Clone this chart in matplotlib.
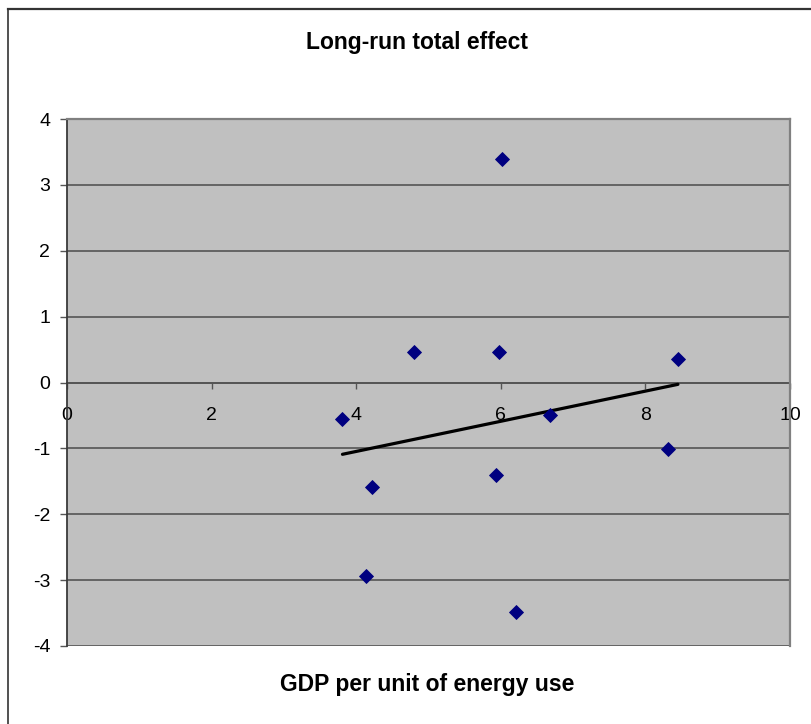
import numpy as np
import matplotlib
matplotlib.use("Agg")
import matplotlib.pyplot as plt
from matplotlib.lines import Line2D

# Data
gdp_per_energy = [3.81, 4.22, 4.14, 4.80, 5.97, 6.01, 5.94, 6.21, 6.68, 8.31, 8.45]
long_run_effect = [-0.56, -1.59, -2.94, 0.47, 0.47, 3.39, -1.40, -3.49, -0.50, -1.01, 0.35]
x_ticks = [0, 2, 4, 6, 8, 10]
y_ticks = [-4, -3, -2, -1, 0, 1, 2, 3, 4]
title_text = "Long-run total effect"
xlabel_text = "GDP per unit of energy use"

plt.rcParams['font.family'] = ['Liberation Sans', 'DejaVu Sans']

W, H = 811, 724
fig = plt.figure(figsize=(W / 100, H / 100), dpi=100)
fig.patch.set_facecolor('white')

# plot area in pixels
L, R, T, B = 67, 790, 119, 646
ax = fig.add_axes([L / W, (H - B) / H, (R - L) / W, (B - T) / H])
ax.set_facecolor('#C0C0C0')
ax.set_xlim(0, 10)
ax.set_ylim(-4, 4)

# gridlines
for yv in y_ticks:
    ax.axhline(yv, color='#555555', lw=1.2, zorder=1)

# spines
ax.spines['left'].set_color('#3a3a3a')
ax.spines['left'].set_linewidth(1.3)
ax.spines['left'].set_position(('data', 0))
ax.spines['bottom'].set_position(('data', 0))
ax.spines['bottom'].set_color('#555555')
ax.spines['bottom'].set_linewidth(1.3)
ax.spines['top'].set_color('#808080')
ax.spines['top'].set_linewidth(1.6)
ax.spines['right'].set_color('#808080')
ax.spines['right'].set_linewidth(1.6)
ax.spines['bottom'].set_zorder(2)

ax.set_xticks(x_ticks)
ax.set_xticklabels([str(v) for v in x_ticks])
ax.set_yticks(y_ticks)
ax.set_yticklabels([str(v) for v in y_ticks])
ax.tick_params(axis='x', direction='out', length=4, width=1, color='#555555',
               labelsize=14, pad=14)
ax.tick_params(axis='y', direction='out', length=5, width=1, color='#555555',
               labelsize=14, pad=7)

# scatter points
ax.plot(gdp_per_energy, long_run_effect, linestyle='none', marker='D',
        markersize=6.8, markerfacecolor='#000080', markeredgecolor='#000080',
        markeredgewidth=0.6, zorder=4, clip_on=False)

# linear trendline
xs = np.array(gdp_per_energy)
coef = np.polyfit(xs, np.array(long_run_effect), 1)
xl = np.array([xs.min(), xs.max()])
ax.plot(xl, np.polyval(coef, xl), color='black', lw=2.3, zorder=3,
        solid_capstyle='round')

# titles
fig.text(417 / W, 1 - 42 / H, title_text, ha='center', va='center',
         fontsize=16.5, fontweight='bold')
fig.text(427 / W, 1 - 685 / H, xlabel_text, ha='center', va='center',
         fontsize=16.5, fontweight='bold')

# outer chart border (top and left visible)
fig.add_artist(Line2D([7.5 / W, 7.5 / W], [0, 1 - 9 / H], transform=fig.transFigure,
                      color='#333333', lw=1.2))
fig.add_artist(Line2D([7.5 / W, 1], [1 - 9 / H, 1 - 9 / H], transform=fig.transFigure,
                      color='#333333', lw=1.6))

fig.savefig('out.png', dpi=100)
